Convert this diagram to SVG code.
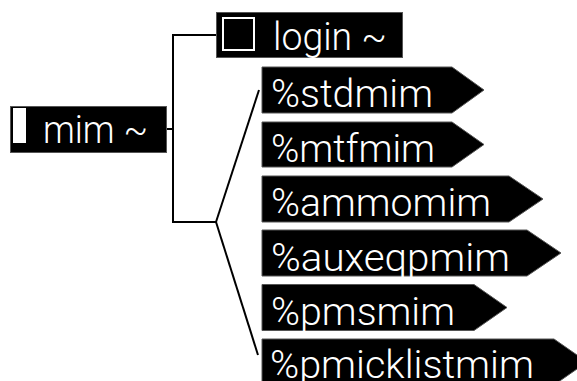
<svg xmlns="http://www.w3.org/2000/svg" width="577" height="381" viewBox="0 0 577 381">
  <style>
    .box { fill: #000; stroke: #555; stroke-width: 1; }
    .lbl { font-family: Roboto, "Liberation Sans", Arial, sans-serif; font-weight: 300; font-size: 39px; fill: #fff; }
    .wire { fill: none; stroke: #000; stroke-width: 2; }
  </style>
  <rect width="577" height="381" fill="#fff"/>

  <!-- connectors -->
  <g id="connectors">
    <polyline class="wire" points="166,129 173,129"/>
    <polyline class="wire" points="216,35 173,35 173,222 216,222"/>
    <line class="wire" x1="216" y1="222" x2="259" y2="90" stroke-width="1.6"/>
    <line class="wire" x1="216" y1="222" x2="258" y2="355" stroke-width="1.6"/>
  </g>

  <!-- root -->
  <g id="mim">
    <rect class="box" x="10.5" y="106.5" width="156" height="46"/>
    <rect x="13" y="108" width="13" height="35" fill="#fff"/>
    <text class="lbl" x="43" y="143" textLength="105" lengthAdjust="spacingAndGlyphs">mim ~</text>
  </g>

  <g id="login">
    <rect class="box" x="216.5" y="12.5" width="186" height="45"/>
    <rect x="223" y="18" width="31" height="32" fill="#000" stroke="#fff" stroke-width="2"/>
    <text class="lbl" x="273" y="50" textLength="114" lengthAdjust="spacingAndGlyphs">login ~</text>
  </g>

  <!-- leaf tags -->
  <g id="stdmim">
    <polygon class="box" points="262,67 452,67 484,90 452,113 262,113"/>
    <text class="lbl" x="271" y="107" textLength="162" lengthAdjust="spacingAndGlyphs">%stdmim</text>
  </g>
  <g id="mtfmim">
    <polygon class="box" points="262,122 452,122 484,144.5 452,167 262,167"/>
    <text class="lbl" x="271" y="161.5" textLength="164" lengthAdjust="spacingAndGlyphs">%mtfmim</text>
  </g>
  <g id="ammomim">
    <polygon class="box" points="262,176 509,176 543,199 509,222 262,222"/>
    <text class="lbl" x="271" y="216" textLength="220" lengthAdjust="spacingAndGlyphs">%ammomim</text>
  </g>
  <g id="auxeqpmim">
    <polygon class="box" points="262,230 527,230 561,253 527,276 262,276"/>
    <text class="lbl" x="271" y="270.5" textLength="239" lengthAdjust="spacingAndGlyphs">%auxeqpmim</text>
  </g>
  <g id="pmsmim">
    <polygon class="box" points="262,284.5 474,284.5 507,307.5 474,330.5 262,330.5"/>
    <text class="lbl" x="271" y="325" textLength="184" lengthAdjust="spacingAndGlyphs">%pmsmim</text>
  </g>
  <g id="pmicklistmim">
    <polygon class="box" points="262,339 554,339 587,362 554,385 262,385"/>
    <text class="lbl" x="270" y="378" textLength="264" lengthAdjust="spacingAndGlyphs">%pmicklistmim</text>
  </g>
</svg>
